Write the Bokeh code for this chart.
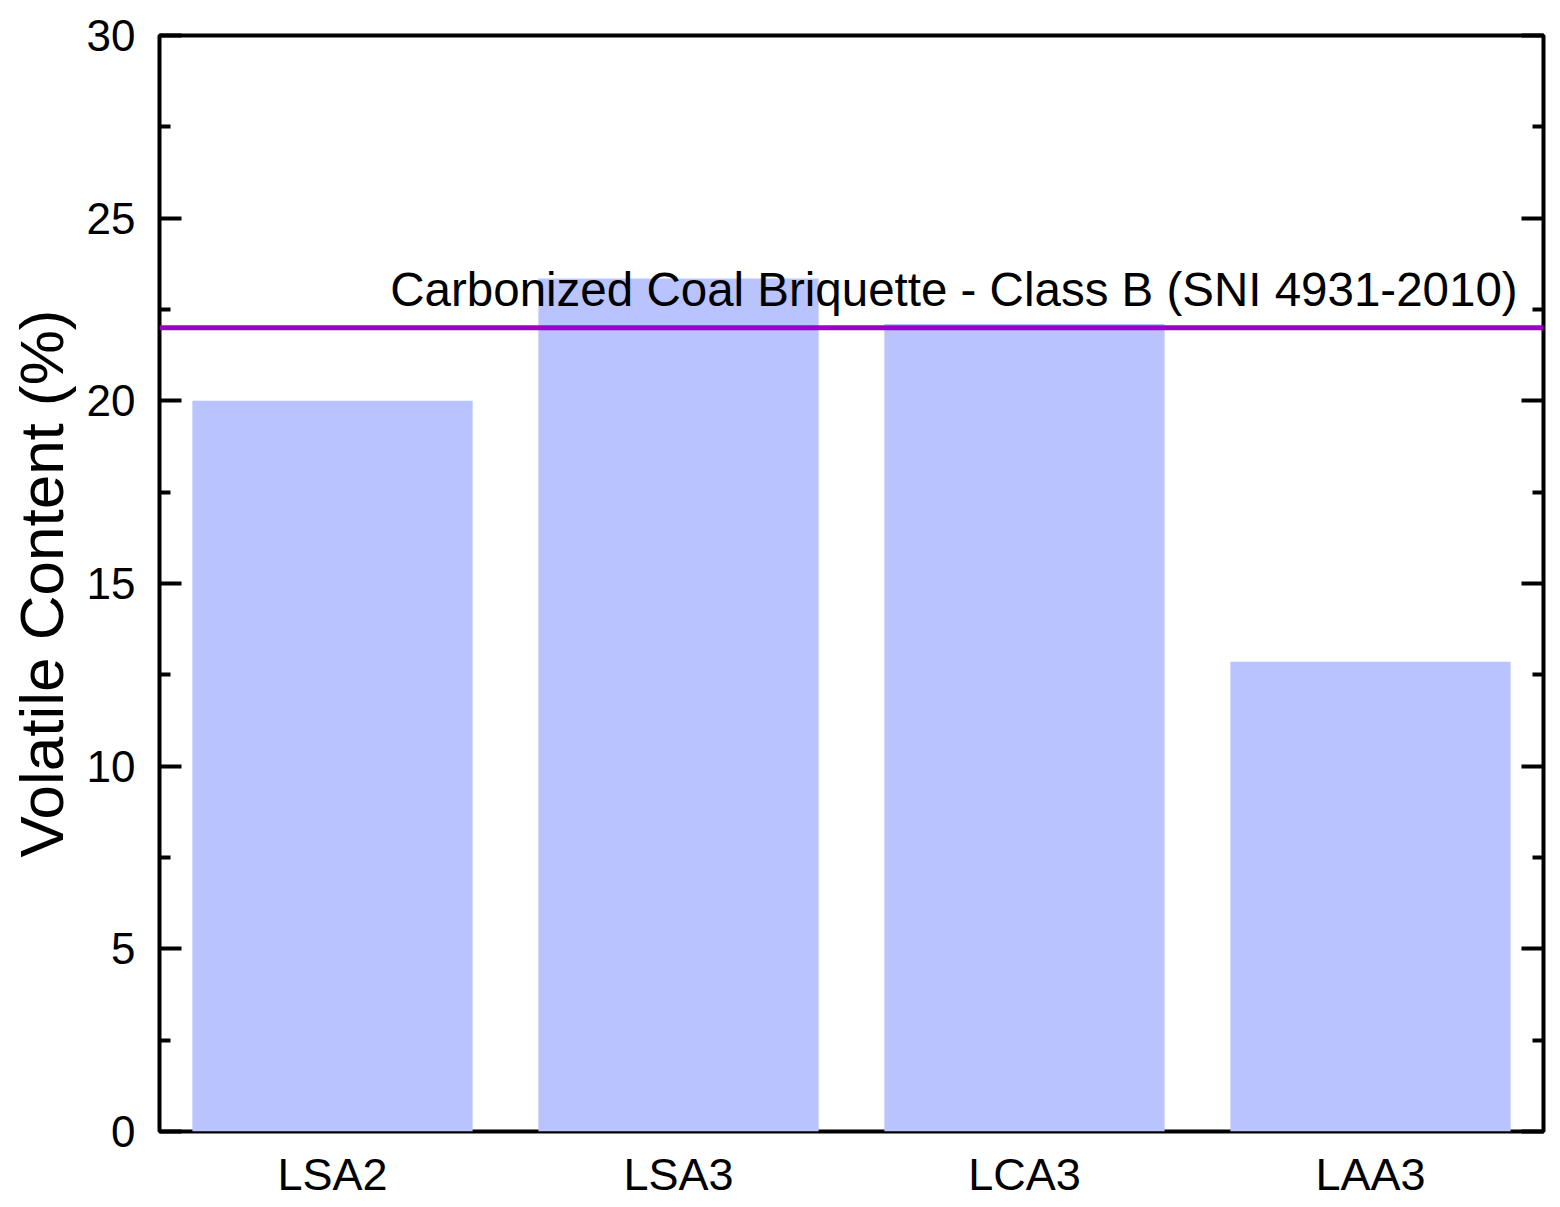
from bokeh.plotting import figure
from bokeh.models import LinearAxis, Span, Label, FixedTicker, ColumnDataSource, Range1d
from bokeh.embed import file_html
from bokeh.resources import INLINE

categories = ["LSA2", "LSA3", "LCA3", "LAA3"]
volatile = [20.0, 23.35, 22.1, 12.86]
standard_value = 22.0
standard_label = "Carbonized Coal Briquette - Class B (SNI 4931-2010)"
y_ticks = [0, 5, 10, 15, 20, 25, 30]
y_minor = [2.5, 7.5, 12.5, 17.5, 22.5, 27.5]

FONT = "Liberation Sans"

p = figure(x_range=categories, y_range=Range1d(0, 30), width=1552, height=1207,
           output_backend="svg", toolbar_location=None,
           min_border_left=159, min_border_top=35, min_border_right=9, min_border_bottom=76)

src = ColumnDataSource(dict(cat=categories, val=volatile))
p.vbar(x="cat", top="val", width=0.81, source=src, fill_color="#B9C3FD", line_color=None)

p.xgrid.visible = False
p.ygrid.visible = False
p.outline_line_color = "black"
p.outline_line_width = 4
p.background_fill_color = "white"
p.border_fill_color = "white"

# x axis
xa = p.xaxis[0]
xa.axis_line_color = None
xa.major_tick_line_color = None
xa.minor_tick_line_color = None
xa.major_tick_in = 0
xa.major_tick_out = 0
xa.minor_tick_in = 0
xa.minor_tick_out = 0
xa.major_label_text_font = FONT
xa.major_label_text_font_size = "45px"
xa.major_label_text_color = "black"
xa.major_label_standoff = 17

# y axis
ya = p.yaxis[0]
ya.ticker = FixedTicker(ticks=y_ticks, minor_ticks=y_minor)
ya.axis_line_color = None
ya.major_tick_in = 22
ya.major_tick_out = 0
ya.minor_tick_in = 11
ya.minor_tick_out = 0
ya.major_tick_line_width = 4
ya.minor_tick_line_width = 4
ya.major_tick_line_color = "black"
ya.minor_tick_line_color = "black"
ya.major_label_text_font = FONT
ya.major_label_text_font_size = "44px"
ya.major_label_text_color = "black"
ya.major_label_standoff = 24
ya.axis_label = "Volatile Content (%)"
ya.axis_label_text_font = FONT
ya.axis_label_text_font_size = "62px"
ya.axis_label_text_font_style = "normal"
ya.axis_label_text_color = "black"
ya.axis_label_standoff = 8

# right axis (ticks only, no labels)
ra = LinearAxis(ticker=FixedTicker(ticks=y_ticks, minor_ticks=y_minor))
ra.axis_line_color = None
ra.major_tick_in = 22
ra.major_tick_out = 0
ra.minor_tick_in = 11
ra.minor_tick_out = 0
ra.major_tick_line_width = 4
ra.minor_tick_line_width = 4
ra.major_label_text_color = None
ra.major_label_overrides = {t: "" for t in y_ticks}
ra.major_label_standoff = 0
p.add_layout(ra, "right")

span = Span(location=standard_value, dimension="width", line_color="#9C00C6", line_width=5)
p.add_layout(span)

lbl = Label(x=0.667, y=23.05, text=standard_label, text_font=FONT, text_font_size="47.5px",
            text_color="black", text_align="left", text_baseline="alphabetic")
p.add_layout(lbl)

open("out.html", "w").write(file_html(p, INLINE))
